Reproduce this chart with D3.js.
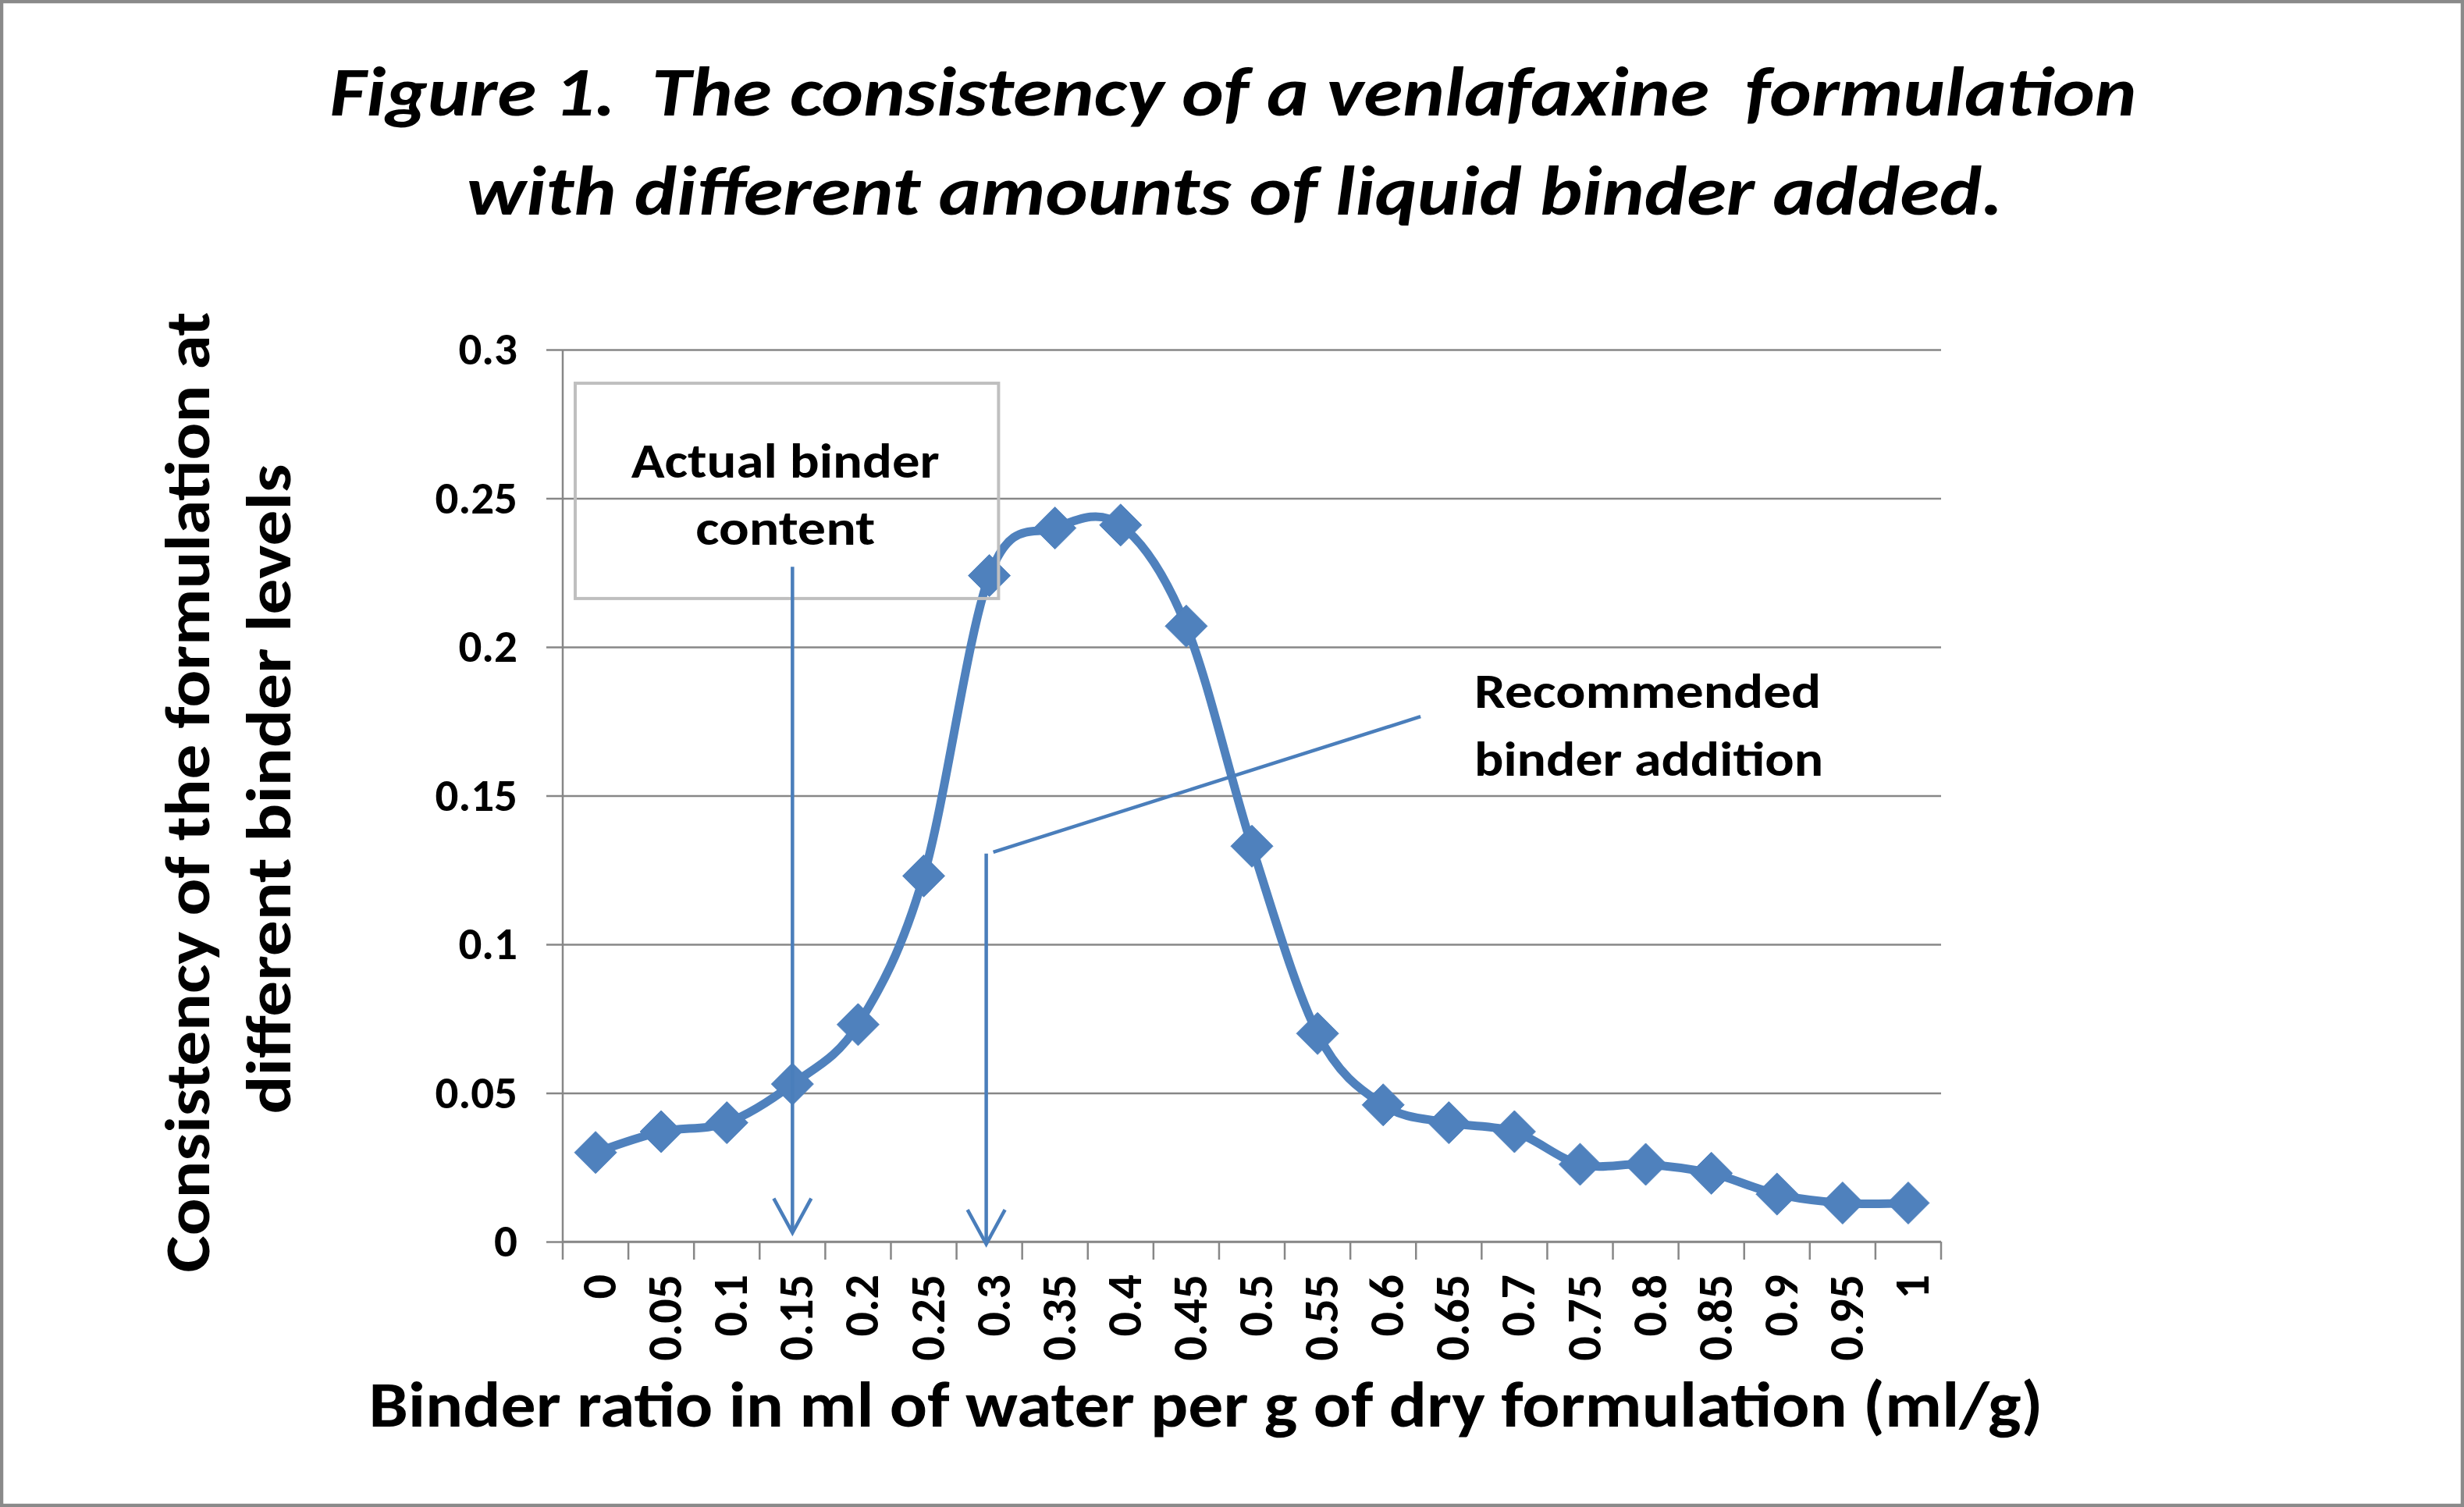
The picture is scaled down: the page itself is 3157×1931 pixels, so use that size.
<!DOCTYPE html>
<html>
<head>
<meta charset="utf-8">
<script src="https://cdn.jsdelivr.net/npm/d3@7/dist/d3.min.js"></script>
<style>
  html, body { margin: 0; padding: 0; background: #ffffff; }
  svg { display: block; }
  text { font-family: Carlito, Calibri, Lato, "Open Sans", sans-serif; fill: #000; }
</style>
</head>
<body>
<svg id="chart" width="3157" height="1931"></svg>
<script>
// ---------------- data ----------------
const categories = ["0","0.05","0.1","0.15","0.2","0.25","0.3","0.35","0.4","0.45","0.5",
                    "0.55","0.6","0.65","0.7","0.75","0.8","0.85","0.9","0.95","1"];
const consistency = [0.030,0.037,0.040,0.053,0.073,0.123,0.224,0.240,0.241,0.207,0.133,
                     0.070,0.046,0.040,0.037,0.026,0.026,0.023,0.016,0.013,0.013];
const yTicks = [0, 0.05, 0.1, 0.15, 0.2, 0.25, 0.3];
const titleLines = ["Figure 1.  The consistency of a venlafaxine  formulation",
                    "with different amounts of liquid binder added."];
const yTitleLines = ["Consistency of the formulation at", "different binder levels"];
const xTitle = "Binder ratio in ml of water per g of dry formulation (ml/g)";
const actualLabel = ["Actual binder", "content"];
const recommendedLabel = ["Recommended", "binder addition"];
const actualCategory = "0.15";
const recommendedCategory = "0.3";

// ---------------- layout ----------------
const W = 3157, H = 1931;
const plot = { left: 721, right: 2487, top: 448, bottom: 1591 };
const blue = "#4F81BD", arrowBlue = "#4A7EBB", grid = "#878787";

const svg = d3.select("#chart");

function fit(sel, w) {
  sel.each(function () {
    const L = this.getComputedTextLength();
    if (Math.abs(L - w) > 2) d3.select(this).attr("textLength", w).attr("lengthAdjust", "spacingAndGlyphs");
  });
}

// background + frame
svg.append("rect").attr("width", W).attr("height", H).attr("fill", "#fff");
svg.append("rect").attr("x", 2).attr("y", 2).attr("width", W - 4).attr("height", H - 4)
  .attr("fill", "none").attr("stroke", "#8a8a8a").attr("stroke-width", 4.5);

// scales
const x = d3.scaleBand().domain(categories).range([plot.left, plot.right]).paddingInner(0).paddingOuter(0);
const xc = d3.scaleLinear().domain([0, categories.length]).range([plot.left, plot.right]); // category units
const y = d3.scaleLinear().domain([0, 0.3]).range([plot.bottom, plot.top]);
const cx = c => x(c) + x.bandwidth() / 2;

// gridlines + y tick labels
const yAxis = d3.axisLeft(y).tickValues(yTicks).tickFormat(d => String(+d.toFixed(2)))
  .tickSizeInner(plot.right - plot.left + 21).tickSizeOuter(0).tickPadding(37);
const gy = svg.append("g").attr("transform", `translate(${plot.right},0)`).call(yAxis);
gy.select(".domain").remove();
gy.selectAll(".tick line").attr("stroke", grid).attr("stroke-width", 2.5);
gy.selectAll(".tick text").attr("font-size", 59).attr("font-weight", "bold")
  .style("font-family", "Carlito, Calibri, Lato, sans-serif").attr("fill", "#000");

// y axis line
svg.append("line").attr("x1", plot.left).attr("x2", plot.left).attr("y1", y(0.3)).attr("y2", y(0))
  .attr("stroke", grid).attr("stroke-width", 2.5);

// x axis line + boundary ticks
svg.append("line").attr("x1", plot.left).attr("x2", plot.right).attr("y1", y(0)).attr("y2", y(0))
  .attr("stroke", grid).attr("stroke-width", 2.5);
const bounds = categories.map(c => x(c)).concat([plot.right]);
svg.append("g").selectAll("line").data(bounds).join("line")
  .attr("x1", d => d).attr("x2", d => d).attr("y1", y(0)).attr("y2", y(0) + 23)
  .attr("stroke", grid).attr("stroke-width", 2.5);

// x tick labels (rotated)
const xAxis = d3.axisBottom(x).tickSize(0).tickPadding(0);
const gx = svg.append("g").attr("transform", `translate(0,${plot.bottom})`).call(xAxis);
gx.select(".domain").remove();
gx.selectAll(".tick text")
  .attr("transform", "rotate(-90)").attr("x", -42).attr("y", 0).attr("dy", "0.42em")
  .attr("text-anchor", "end").attr("font-size", 62).attr("font-weight", "bold")
  .style("font-family", "Carlito, Calibri, Lato, sans-serif").attr("fill", "#000");

// series line (smoothed)
const line = d3.line().x((d, i) => cx(categories[i])).y(d => y(d)).curve(d3.curveCardinal.tension(0));
svg.append("path").datum(consistency).attr("d", line)
  .attr("fill", "none").attr("stroke", blue).attr("stroke-width", 11).attr("stroke-linejoin", "round");

// markers
const r = 27;
svg.append("g").selectAll("path").data(consistency).join("path")
  .attr("d", (d, i) => {
    const px = cx(categories[i]), py = y(d);
    return `M${px},${py - r}L${px + r},${py}L${px},${py + r}L${px - r},${py}Z`;
  })
  .attr("fill", blue).attr("stroke", blue).attr("stroke-width", 1);

// ---------------- annotations ----------------
function arrowHead(tx, ty) {
  svg.append("path").attr("d", `M${tx - 24},${ty - 44}L${tx},${ty}L${tx + 24},${ty - 44}`)
    .attr("fill", "none").attr("stroke", arrowBlue).attr("stroke-width", 4.5).attr("stroke-linejoin", "miter");
}

// Actual binder content box
const boxX0 = xc(0.19), boxX1 = xc(6.64), boxY0 = y(0.2887), boxY1 = y(0.2163);
svg.append("rect").attr("x", boxX0).attr("y", boxY0).attr("width", boxX1 - boxX0).attr("height", boxY1 - boxY0)
  .attr("fill", "none").attr("stroke", "#bfbfbf").attr("stroke-width", 4);
const ax = cx(actualCategory);
const tA = svg.append("g");
tA.append("text").attr("x", (boxX0 + boxX1) / 2 - 2).attr("y", 612).attr("text-anchor", "middle")
  .attr("font-size", 63).attr("font-weight", "bold").text(actualLabel[0]).call(fit, 395);
tA.append("text").attr("x", (boxX0 + boxX1) / 2 - 2).attr("y", 698).attr("text-anchor", "middle")
  .attr("font-size", 63).attr("font-weight", "bold").text(actualLabel[1]).call(fit, 230);
svg.append("line").attr("x1", ax).attr("x2", ax).attr("y1", y(0.227)).attr("y2", y(0.003))
  .attr("stroke", arrowBlue).attr("stroke-width", 4.5);
arrowHead(ax, y(0.003));

// Recommended binder addition
const rx = cx(recommendedCategory) - 4;
svg.append("line").attr("x1", rx + 9).attr("y1", y(0.131)).attr("x2", xc(13.07)).attr("y2", y(0.1766))
  .attr("stroke", arrowBlue).attr("stroke-width", 4.5);
svg.append("line").attr("x1", rx).attr("x2", rx).attr("y1", y(0.1305)).attr("y2", y(-0.0008))
  .attr("stroke", arrowBlue).attr("stroke-width", 4.5);
arrowHead(rx, y(-0.0008));
svg.append("text").attr("x", xc(13.89)).attr("y", 907).attr("font-size", 63).attr("font-weight", "bold")
  .text(recommendedLabel[0]).call(fit, 444);
svg.append("text").attr("x", xc(13.89)).attr("y", 994).attr("font-size", 63).attr("font-weight", "bold")
  .text(recommendedLabel[1]).call(fit, 447);

// ---------------- titles ----------------
svg.append("text").attr("x", 1580).attr("y", 148).attr("text-anchor", "middle")
  .attr("font-size", 90).attr("font-weight", "bold").attr("font-style", "italic")
  .style("white-space", "pre").text(titleLines[0]).call(fit, 2315);
svg.append("text").attr("x", 1582).attr("y", 275).attr("text-anchor", "middle")
  .attr("font-size", 90).attr("font-weight", "bold").attr("font-style", "italic")
  .style("white-space", "pre").text(titleLines[1]).call(fit, 1969);

// y axis title
svg.append("text").attr("transform", "translate(268,1015) rotate(-90)").attr("text-anchor", "middle")
  .attr("font-size", 80).attr("font-weight", "bold").text(yTitleLines[0]).call(fit, 1231);
svg.append("text").attr("transform", "translate(372,1011) rotate(-90)").attr("text-anchor", "middle")
  .attr("font-size", 80).attr("font-weight", "bold").text(yTitleLines[1]).call(fit, 833);

// x axis title
svg.append("text").attr("x", 1545).attr("y", 1828).attr("text-anchor", "middle")
  .attr("font-size", 82).attr("font-weight", "bold").text(xTitle).call(fit, 2145);
</script>
</body>
</html>
